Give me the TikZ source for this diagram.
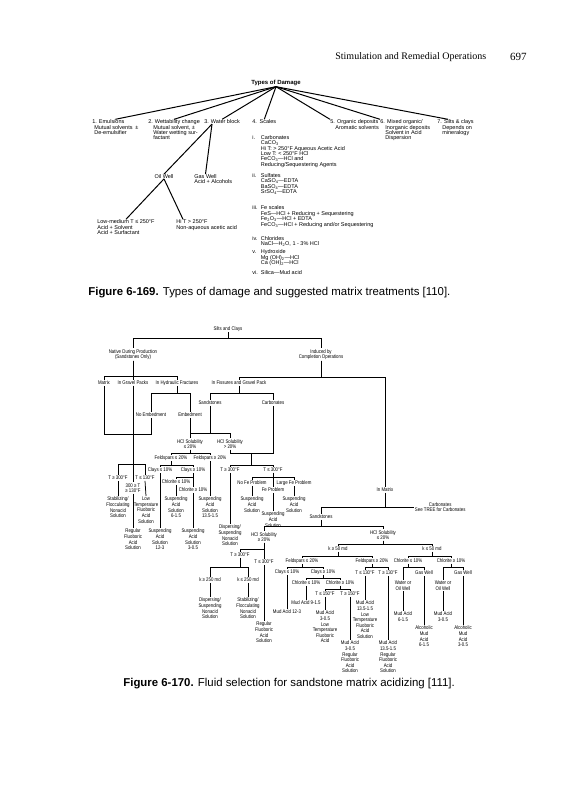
\documentclass[tikz,border=0pt]{standalone}
\usepackage{fontspec}
\setmainfont{Liberation Serif}
\newfontfamily\figsans{Liberation Sans}
\newfontfamily\narrowsans[FakeStretch=0.82]{Liberation Sans}
\usetikzlibrary{positioning}

% orthogonal tree connector: down to a bar, across, down to the child
\newcommand\treefork[3]{\draw (#1.south) -- (#1.south |- 0,#2) -| (#3.north);}
\newcommand\rn[1]{\makebox[8.5pt][l]{#1}}
\newcommand\ind{\hspace*{8.5pt}}

\begin{document}
\begin{tikzpicture}[x=1pt, y=-1pt, line width=0.75pt,
    itm/.style={font=\figsans\fontsize{5.5}{5.4}\selectfont, align=left, anchor=north west, inner sep=0pt},
    ttl/.style={font=\figsans\bfseries\fontsize{6}{7}\selectfont, inner sep=0.5pt},
    lbl/.style={font=\narrowsans\fontsize{5.3}{5.6}\selectfont, align=center, inner sep=0.6pt},
    thk/.style={line width=1pt},
    capt/.style={font=\figsans\fontsize{11.4}{13}\selectfont, anchor=west, inner sep=0pt}]
\fill[white] (0,0) rectangle (563,800);
\useasboundingbox (0,0) rectangle (563,800);

% running head
\node[anchor=west, inner sep=0, font=\fontsize{10}{12}\selectfont] (head) at (335,57) {Stimulation and Remedial Operations};
\node[anchor=east, inner sep=0, font=\fontsize{11}{12}\selectfont] (page) at (527,57) {697};

% ---- Figure 6-169 ----
\node[ttl] (tod) at (276,83) {Types of Damage};
\node[itm] (e1) at (92,119.3) {1. Emulsions\\\hspace*{2pt}Mutual solvents\enspace ±\\\hspace*{2pt}De-emulsifier};
\node[itm] (e2) at (148,119.3) {2. Wettability change\\\hspace*{5pt}Mutual solvent, ±\\\hspace*{5pt}Water wetting sur-\\\hspace*{5pt}factant};
\node[itm] (e3) at (204,119.3) {3. Water block};
\node[itm] (e4) at (252,119.3) {4.\enspace Scales};
\node[itm] (e5) at (330,119.3) {5. Organic deposits\\\hspace*{5pt}Aromatic solvents};
\node[itm] (e6) at (380,119.3) {6. Mixed organic/\\\hspace*{5pt}Inorganic deposits\\\hspace*{5pt}Solvent in Acid\\\hspace*{5pt}Dispersion};
\node[itm] (e7) at (437,119.3) {7. Silts \& clays\\\hspace*{5pt}Depends on\\\hspace*{5pt}mineralogy};

\node[itm] (carb) at (252,135) {\rn{i.}Carbonates\\\ind CaCO\textsubscript{3}\\\ind Hi T: > 250°F Aqueous Acetic Acid\\\ind Low T: < 250°F HCl\\\ind FeCO\textsubscript{3}—HCl and\\\ind Reducing/Sequestering Agents};
\node[itm] (sulf) at (252,173) {\rn{ii.}Sulfates\\\ind CaSO\textsubscript{4}—EDTA\\\ind BaSO\textsubscript{4}—EDTA\\\ind SrSO\textsubscript{4}—EDTA};
\node[itm] (fesc) at (252,205.5) {\rn{iii.}Fe scales\\\ind FeS—HCl + Reducing + Sequestering\\\ind Fe\textsubscript{2}O\textsubscript{3}—HCl + EDTA\\\ind FeCO\textsubscript{3}—HCl + Reducing and/or Sequestering};
\node[itm] (chlo) at (252,235.8) {\rn{iv.}Chlorides\\\ind NaCl—H\textsubscript{2}O, 1 - 3\% HCl};
\node[itm] (hydr) at (252,249.5) {\rn{v.}Hydroxide\\\ind Mg (OH)\textsubscript{2}—HCl\\\ind Ca (OH)\textsubscript{2}—HCl};
\node[itm] (sili) at (252,270.5) {\rn{vi.}Silica—Mud acid};

\node[itm, anchor=center] (oil) at (164,176.5) {Oil Well};
\node[itm, anchor=center] (gas) at (205.5,176.5) {Gas Well};
\node[itm, below=0.6pt of gas.south west, anchor=north west] (gasfl) {Acid + Alcohols};
\node[itm] (lowmed) at (97,219.3) {Low-medium T ≤ 250°F\\Acid + Solvent\\Acid + Surfactant};
\node[itm] (hit) at (176,219.3) {Hi T > 250°F\\Non-aqueous acetic acid};

\draw[thk] (tod.south) -- (e1.north);
\draw[thk] (tod.south) -- (e2.north);
\draw[thk] (tod.south) -- (e3.north);
\draw[thk] (tod.south) -- (e4.north);
\draw[thk] (tod.south) -- (e5.north west);
\draw[thk] (tod.south) -- (e6.north west);
\draw[thk] (tod.south) -- ([xshift=11pt]e7.north west);
\draw[thk] ([xshift=8pt]e3.south west) -- (oil.north);
\draw[thk] ([xshift=8pt]e3.south west) -- (gas.north);
\draw[thk] (oil.south) -- (lowmed.north);
\draw[thk] (oil.south) -- ([xshift=7pt]hit.north west);

\node[capt] (cap1) at (88,293) {\textbf{Figure 6-169.} Types of damage and suggested matrix treatments [110].};

% ---- Figure 6-170 ----
\node[lbl] (silts) at (228,329) {Silts and Clays};
\node[lbl] (native) at (133,354.5) {Native During Production\\(Sandstones Only)};
\node[lbl] (induced) at (321,354.5) {Induced by\\Completion Operations};
\node[lbl] (matrix) at (104,383) {Matrix};
\node[lbl] (gravel) at (133,383) {In Gravel Packs};
\node[lbl] (hydfrac) at (177,383) {In Hydraulic Fractures};
\node[lbl] (fissure) at (239,383) {In Fissures and Gravel Pack};
\node[lbl] (nembed) at (151,415) {No Embedment};
\node[lbl] (embed) at (190,415) {Embedment};
\node[lbl] (sand1) at (210,403) {Sandstones};
\node[lbl] (carb1) at (273,403) {Carbonates};
\node[lbl] (hcl1) at (190,444) {HCl Solubility\\≤ 20\%};
\node[lbl] (hcl2) at (230,444) {HCl Solubility\\> 20\%};
\node[lbl] (feld1) at (171,458) {Feldspars ≤ 20\%};
\node[lbl] (feld2) at (210,458) {Feldspars ≥ 20\%};
\node[lbl] (clay1) at (160,470) {Clays ≤ 10\%};
\node[lbl] (clay2) at (193,470) {Clays ≥ 10\%};
\node[lbl] (chl1) at (176,482) {Chlorite ≤ 10\%};
\node[lbl] (chl2) at (193,490) {Chlorite ≥ 10\%};
\node[lbl] (t300a) at (118,478) {T ≥ 300°F};
\node[lbl] (t130a) at (145,478) {T ≤ 130°F};
\node[lbl] (tmid) at (133,488) {300 ≥ T\\≥ 130°F};
\node[lbl, anchor=north] (stab1) at (118,496) {Stabilizing/\\Flocculating\\Nonacid\\Solution};
\node[lbl, anchor=north] (lowfb) at (146,496) {Low\\Temperature\\Fluoboric\\Acid\\Solution};
\node[lbl, anchor=north] (regfb1) at (133,528) {Regular\\Fluoboric\\Acid\\Solution};
\node[lbl, anchor=north] (susp61) at (176,496) {Suspending\\Acid\\Solution\\6-1.5};
\node[lbl, anchor=north] (susp123) at (160,528) {Suspending\\Acid\\Solution\\12-3};
\node[lbl, anchor=north] (susp305) at (193,528) {Suspending\\Acid\\Solution\\3-0.5};
\node[lbl, anchor=north] (susp135) at (210,496) {Suspending\\Acid\\Solution\\13.5-1.5};
\node[lbl] (t300b) at (230,470) {T ≥ 300°F};
\node[lbl] (t300c) at (273,470) {T ≤ 300°F};
\node[lbl] (nofe) at (252,483) {No Fe Problem};
\node[lbl] (largefe) at (294,483) {Large Fe Problem};
\node[lbl] (fe) at (273,490) {Fe Problem};
\node[lbl, anchor=north] (suspA) at (252,496) {Suspending\\Acid\\Solution};
\node[lbl, anchor=north] (suspB) at (294,496) {Suspending\\Acid\\Solution};
\node[lbl, anchor=north] (suspC) at (273,511) {Suspending\\Acid\\Solution};
\node[lbl, anchor=north] (disp1) at (230,524) {Dispersing/\\Suspending\\Nonacid\\Solution};
\coordinate (cjoin) at (251.5,453);

\node[lbl] (inmatrix) at (385,490) {In Matrix};
\node[lbl, anchor=west] (carb2) at (414,507) {Carbonates\\See TREE for Carbonates};
\node[lbl] (sand2) at (321,517) {Sandstones};
\node[lbl] (hcl3) at (264,537) {HCl Solubility\\≥ 20\%};
\node[lbl] (hcl4) at (383,535) {HCl Solubility\\≤ 20\%};
\node[lbl] (t300d) at (240,555) {T ≥ 300°F};
\node[lbl] (t300e) at (264,562) {T ≤ 300°F};
\node[lbl] (k250a) at (210,580) {k ≥ 250 md};
\node[lbl] (k250b) at (248,580) {k ≤ 250 md};
\node[lbl, anchor=north] (disp2) at (210,597) {Dispersing/\\Suspending\\Nonacid\\Solution};
\node[lbl, anchor=north] (stab2) at (248,597) {Stabilizing/\\Flocculating\\Nonacid\\Solution};
\node[lbl, anchor=north] (regfb2) at (264,621) {Regular\\Fluoboric\\Acid\\Solution};
\node[lbl] (k50a) at (338,549) {k ≥ 50 md};
\node[lbl] (k50b) at (432,549) {k ≤ 50 md};
\node[lbl] (feld3) at (302,561) {Feldspars ≤ 20\%};
\node[lbl] (feld4) at (372,561) {Feldspars ≥ 20\%};
\node[lbl] (chl3) at (408,561) {Chlorite ≤ 10\%};
\node[lbl] (chl4) at (451,561) {Chlorite ≥ 10\%};
\node[lbl] (clay3) at (287,572) {Clays ≤ 10\%};
\node[lbl] (clay4) at (323,572) {Clays ≥ 10\%};
\node[lbl] (t130b) at (365,573) {T ≤ 130°F};
\node[lbl] (t130c) at (388,573) {T ≥ 130°F};
\node[lbl] (chl5) at (306,583) {Chlorite ≤ 10\%};
\node[lbl] (chl6) at (340,583) {Chlorite ≥ 10\%};
\node[lbl] (t150a) at (325,594) {T ≤ 150°F};
\node[lbl] (t150b) at (350,594) {T ≥ 150°F};
\node[lbl] (mud123) at (287,612) {Mud Acid 12-3};
\node[lbl] (mud915) at (306,603) {Mud Acid 9-1.5};
\node[lbl, anchor=north] (mud305a) at (325,610) {Mud Acid\\3-0.5\\Low\\Temperature\\Fluoboric\\Acid};
\node[lbl, anchor=north] (mud305b) at (350,640) {Mud Acid\\3-0.5\\Regular\\Fluoboric\\Acid\\Solution};
\node[lbl, anchor=north] (mud135a) at (365,600) {Mud Acid\\13.5-1.5\\Low\\Temperature\\Fluoboric\\Acid\\Solution};
\node[lbl, anchor=north] (mud135b) at (388,640) {Mud Acid\\13.5-1.5\\Regular\\Fluoboric\\Acid\\Solution};
\node[lbl] (gas1) at (424,573) {Gas Well};
\node[lbl, anchor=north] (wow1) at (403,580) {Water or\\Oil Well};
\node[lbl] (gas2) at (463,573) {Gas Well};
\node[lbl, anchor=north] (wow2) at (443,580) {Water or\\Oil Well};
\node[lbl, anchor=north] (mud615) at (403,611) {Mud Acid\\6-1.5};
\node[lbl, anchor=north] (amud615) at (424,625) {Alcoholic\\Mud\\Acid\\6-1.5};
\node[lbl, anchor=north] (mud305c) at (443,611) {Mud Acid\\3-0.5};
\node[lbl, anchor=north] (amud305) at (463,625) {Alcoholic\\Mud\\Acid\\3-0.5};

% native and induced branches
\treefork{silts}{338}{native}
\treefork{silts}{338}{induced}
\treefork{native}{376}{matrix}
\draw (native.south) -- (gravel.north);
\treefork{native}{376}{hydfrac}
\treefork{induced}{377}{fissure}
\treefork{induced}{377}{inmatrix}
\treefork{hydfrac}{393}{nembed}
\treefork{hydfrac}{393}{embed}
\treefork{fissure}{393}{sand1}
\treefork{fissure}{393}{carb1}
\draw (matrix.south) |- (nembed.south |- 0,434) -- (nembed.south);
\treefork{gravel}{464}{t300a}
\treefork{gravel}{464}{t130a}
\draw (gravel.south) -- (tmid.north);
\draw (t300a.south) -- (stab1.north);
\draw (t130a.south) -- (lowfb.north);
\draw (tmid.south) -- (regfb1.north);
\draw (embed.south) -- (hcl1.north);
\treefork{sand1}{433}{hcl1}
\treefork{sand1}{433}{hcl2}
\treefork{hcl1}{453}{feld1}
\treefork{hcl1}{453}{feld2}
\draw (hcl2.south) |- (carb1.south |- 0,453) -- (carb1.south);
\draw (cjoin) -- (cjoin |- 0,465) -| (t300b.north);
\draw (cjoin |- 0,465) -| (t300c.north);
\draw (t300b.south) -- (disp1.north);
\treefork{t300c}{477}{nofe}
\treefork{t300c}{477}{largefe}
\draw (t300c.south) -- (fe.north);
\draw (nofe.south) -- (suspA.north);
\draw (largefe.south) -- (suspB.north);
\draw (fe.south) -- (suspC.north);
\treefork{feld1}{465.5}{clay1}
\treefork{feld1}{465.5}{clay2}
\draw (feld2.south) -- (susp135.north);
\draw (clay1.south) -- (susp123.north);
\treefork{clay2}{477}{chl1}
\draw (clay2.south) -- (chl2.north);
\draw (chl1.south) -- (susp61.north);
\draw (chl2.south) -- (susp305.north);

% in matrix branch
\draw (inmatrix.south) |- (carb2.west);
\treefork{inmatrix}{507}{sand2}
\treefork{sand2}{526}{hcl3}
\treefork{sand2}{526}{hcl4}
\treefork{hcl3}{549}{t300d}
\draw (hcl3.south) -- (t300e.north);
\treefork{t300d}{567}{k250a}
\treefork{t300d}{567}{k250b}
\draw (k250a.south) -- (disp2.north);
\draw (k250b.south) -- (stab2.north);
\draw (t300e.south) -- (regfb2.north);
\treefork{hcl4}{544}{k50a}
\treefork{hcl4}{544}{k50b}
\treefork{k50a}{556}{feld3}
\treefork{k50a}{556}{feld4}
\treefork{k50b}{556}{chl3}
\treefork{k50b}{556}{chl4}
\treefork{feld3}{567}{clay3}
\treefork{feld3}{567}{clay4}
\treefork{feld4}{567.5}{t130b}
\treefork{feld4}{567.5}{t130c}
\draw (clay3.south) -- (mud123.north);
\treefork{clay4}{578}{chl5}
\treefork{clay4}{578}{chl6}
\draw (chl5.south) -- (mud915.north);
\treefork{chl6}{589}{t150a}
\treefork{chl6}{589}{t150b}
\draw (t150a.south) -- (mud305a.north);
\draw (t150b.south) -- (mud305b.north);
\draw (t130b.south) -- (mud135a.north);
\draw (t130c.south) -- (mud135b.north);
\treefork{chl3}{567}{wow1}
\treefork{chl3}{567}{gas1}
\treefork{chl4}{567}{wow2}
\treefork{chl4}{567}{gas2}
\draw (wow1.south) -- (mud615.north);
\draw (gas1.south) -- (amud615.north);
\draw (wow2.south) -- (mud305c.north);
\draw (gas2.south) -- (amud305.north);

\node[capt] (cap2) at (123,684) {\textbf{Figure 6-170.} Fluid selection for sandstone matrix acidizing [111].};
\end{tikzpicture}
\end{document}
